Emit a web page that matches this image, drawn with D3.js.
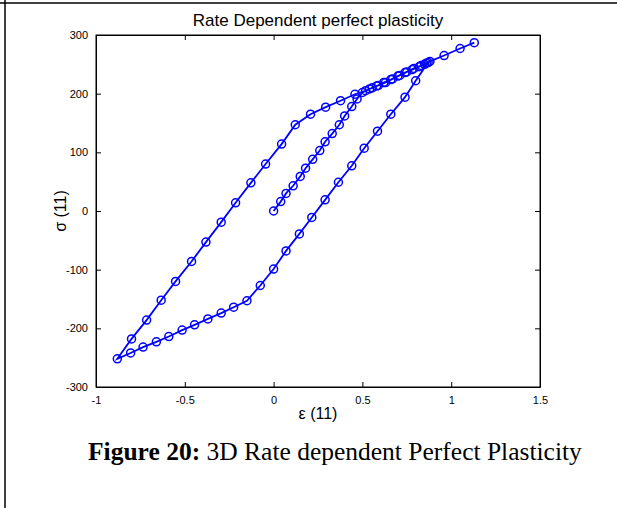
<!DOCTYPE html>
<html>
<head>
<meta charset="utf-8">
<script src="https://cdn.jsdelivr.net/npm/d3@7"></script>
<style>
  body { margin: 0; background: #fff; }
  svg { display: block; }
</style>
</head>
<body>
<div id="chart"></div>
<script>
const WIDTH = 617
const HEIGHT = 508

// data (strain eps11, stress sigma11), in loading order
// first loading, from the origin up to ~0.87
const loadEps = [0, 0.04, 0.07, 0.11, 0.15, 0.18, 0.22, 0.26, 0.29, 0.33, 0.37, 0.40, 0.44, 0.47, 0.50,
    0.54, 0.58, 0.62, 0.66, 0.70, 0.74, 0.78, 0.82, 0.85, 0.87]
const loadSig = [0, 16, 30, 43, 59, 73, 88, 103, 118, 132, 147, 162, 178, 191, 202,
    208, 213, 219, 224, 230, 236, 241, 246, 250, 253]
// unloading down to ~ -0.88
const unloadEps = [0.80, 0.74, 0.66, 0.585, 0.51, 0.44, 0.365, 0.29, 0.215, 0.145, 0.07, 0.0,
    -0.075, -0.15, -0.225, -0.295, -0.37, -0.445, -0.515, -0.59, -0.66, -0.735, -0.805, -0.88]
const unloadSig = [222, 194, 165, 136, 107, 77, 49, 19, -11, -39, -68, -99,
    -127, -153, -164, -174, -184, -194, -203, -214, -223, -232, -242, -252]
// reloading up to ~1.13
const reloadEps = [-0.80, -0.715, -0.633, -0.552, -0.462, -0.381, -0.295, -0.214, -0.128, -0.045,
    0.045, 0.122, 0.208, 0.293, 0.377, 0.458, 0.518, 0.555, 0.59, 0.63, 0.67, 0.71, 0.75,
    0.79, 0.83, 0.86, 0.88, 0.96, 1.05, 1.13]
const reloadSig = [-218, -186, -152, -120, -86, -53, -19, 14, 48, 80,
    114, 147, 165, 177, 188, 199, 205, 210, 214, 219, 225, 231, 237,
    243, 248, 252, 255, 265, 277, 287]

const xTicks = [-1, -0.5, 0, 0.5, 1, 1.5]
const yTicks = [-300, -200, -100, 0, 100, 200, 300]

const pts = []
loadEps.forEach((e, i) => pts.push([e, loadSig[i]]))
unloadEps.forEach((e, i) => pts.push([e, unloadSig[i]]))
reloadEps.forEach((e, i) => pts.push([e, reloadSig[i]]))

const svg = d3.select("#chart")
    .append("svg")
    .attr("width", WIDTH)
    .attr("height", HEIGHT)

// page frame (the figure is cut out of a document)
svg.append("line").attr("x1", 0).attr("x2", WIDTH).attr("y1", 3).attr("y2", 3)
    .attr("stroke", "#000").attr("stroke-width", 1.5)
svg.append("line").attr("x1", 5).attr("x2", 5).attr("y1", 0).attr("y2", HEIGHT)
    .attr("stroke", "#000").attr("stroke-width", 1.5)

const pLeft = 96, pRight = 540, pTop = 35, pBottom = 387

const x = d3.scaleLinear().domain([-1, 1.5]).range([pLeft, pRight])
const y = d3.scaleLinear().domain([-300, 300]).range([pBottom, pTop])

// axes, matlab style: ticks inside, on all four sides, plain hyphen minus
const fmt = d => String(d)
svg.append("g")
    .attr("transform", `translate(0,${pBottom})`)
    .call(d3.axisBottom(x).tickValues(xTicks).tickFormat(fmt).tickSizeInner(-5).tickSizeOuter(0).tickPadding(9))
svg.append("g")
    .attr("transform", `translate(0,${pTop})`)
    .call(d3.axisTop(x).tickValues(xTicks).tickFormat("").tickSizeInner(-5).tickSizeOuter(0))
svg.append("g")
    .attr("transform", `translate(${pLeft},0)`)
    .call(d3.axisLeft(y).tickValues(yTicks).tickFormat(fmt).tickSizeInner(-5).tickSizeOuter(0).tickPadding(8))
svg.append("g")
    .attr("transform", `translate(${pRight},0)`)
    .call(d3.axisRight(y).tickValues(yTicks).tickFormat("").tickSizeInner(-5).tickSizeOuter(0))

svg.selectAll(".domain").attr("stroke", "#000")
svg.selectAll(".tick line").attr("stroke", "#000")
svg.selectAll(".tick text")
    .attr("font-family", "Liberation Sans, Arial, sans-serif")
    .attr("font-size", 11)
    .attr("fill", "#000")

svg.append("rect")
    .attr("x", pLeft).attr("y", pTop)
    .attr("width", pRight - pLeft).attr("height", pBottom - pTop)
    .attr("fill", "none").attr("stroke", "#000").attr("stroke-width", 1)

// the curve
const line = d3.line().x(d => x(d[0])).y(d => y(d[1]))
svg.append("path")
    .datum(pts)
    .attr("d", line)
    .attr("fill", "none")
    .attr("stroke", "#0000ff")
    .attr("stroke-width", 1.8)

svg.append("g")
    .selectAll("circle")
    .data(pts)
    .enter()
    .append("circle")
    .attr("cx", d => x(d[0]))
    .attr("cy", d => y(d[1]))
    .attr("r", 4)
    .attr("fill", "none")
    .attr("stroke", "#0000ff")
    .attr("stroke-width", 1.5)

// titles
svg.append("text")
    .attr("x", (pLeft + pRight) / 2)
    .attr("y", 26)
    .attr("text-anchor", "middle")
    .attr("font-family", "Liberation Sans, Arial, sans-serif")
    .attr("font-size", 17)
    .text("Rate Dependent perfect plasticity")

svg.append("text")
    .attr("x", (pLeft + pRight) / 2)
    .attr("y", 419)
    .attr("text-anchor", "middle")
    .attr("font-family", "Liberation Sans, Arial, sans-serif")
    .attr("font-size", 16)
    .text("ε (11)")

svg.append("text")
    .attr("transform", `translate(66,${(pTop + pBottom) / 2}) rotate(-90)`)
    .attr("text-anchor", "middle")
    .attr("font-family", "Liberation Sans, Arial, sans-serif")
    .attr("font-size", 16)
    .text("σ (11)")

// caption
const cap = svg.append("text")
    .attr("x", 88)
    .attr("y", 460)
    .attr("font-family", "Liberation Serif, Times New Roman, serif")
    .attr("font-size", 25.5)
cap.append("tspan").attr("font-weight", "bold").text("Figure 20:")
cap.append("tspan").text(" 3D Rate dependent Perfect Plasticity")
</script>
</body>
</html>
